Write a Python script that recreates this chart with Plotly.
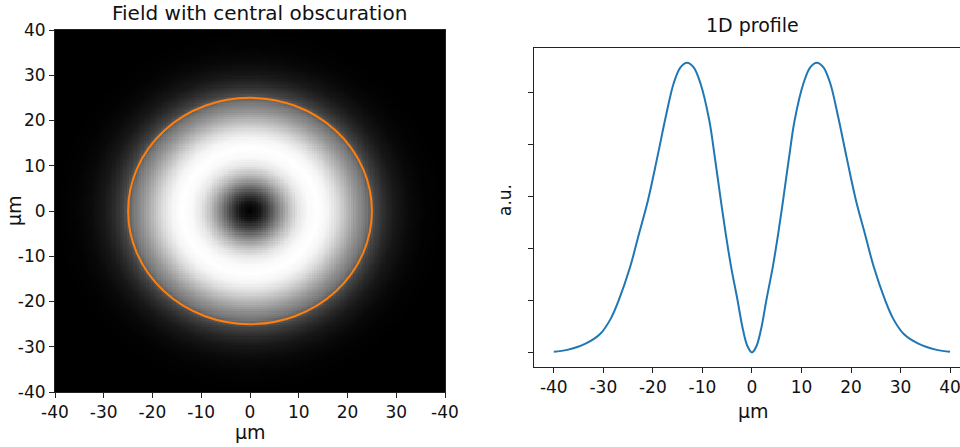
import numpy as np
import plotly.graph_objects as go

# ---- 1D profile through the beam centre (arbitrary units), right half read outward from 0 ----
half_x = [0, 0.9, 1.8, 3.0, 4.2, 5.3, 6.4, 7.5, 8.6, 10.4, 11.8, 13.1,
          14.4, 15.8, 17.4, 19.1, 21.0, 22.8, 24.6, 26.9, 28.5, 30.6, 33.6, 37.3, 40]
half_y = [0.0, 0.012, 0.043, 0.105, 0.164, 0.228, 0.300, 0.375, 0.445, 0.517, 0.548, 0.5565,
          0.548, 0.517, 0.4525, 0.375, 0.292, 0.228, 0.164, 0.100, 0.065, 0.036, 0.017, 0.005, 0.0013]
# the profile is symmetric about 0
profile_x = [-v for v in half_x[:0:-1]] + half_x
profile_y = half_y[:0:-1] + half_y

# ---- radial brightness of the displayed field (0 = black, 1 = white) ----
radius_um = [0, 2, 4, 6, 8, 10, 12, 14, 16, 18, 20, 22, 24, 26, 28, 30, 33, 36, 40]
brightness = [0.0, 0.08, 0.28, 0.52, 0.74, 0.9, 0.98, 1.0, 0.96, 0.86, 0.72, 0.58, 0.46,
              0.26, 0.16, 0.09, 0.035, 0.01, 0.0]

ring_radius = 25  # orange reference circle, µm

heat_ticks = [-40, -30, -20, -10, 0, 10, 20, 30, 40]
heat_xticktext = ["-40", "-30", "-20", "-10", "0", "10", "20", "30", "-40"]
heat_yticktext = ["-40", "-30", "-20", "-10", "0", "10", "20", "30", "40"]
profile_xticks = [-40, -30, -20, -10, 0, 10, 20, 30, 40]
profile_xticktext = ["-40", "-30", "-20", "-10", "0", "10", "20", "30", "40"]
profile_yticks = [0.0, 0.1, 0.2, 0.3, 0.4, 0.5]

# 2D field image built from the radial brightness profile
grid = np.arange(-40, 40.01, 0.5)
gx, gy = np.meshgrid(grid, grid)
field = np.interp(np.hypot(gx, gy), radius_um, brightness)

FONT = "DejaVu Sans"
W, H = 960, 447

fig = go.Figure()
fig.add_trace(go.Heatmap(
    x=grid, y=grid, z=field, colorscale=[[0, "#000000"], [1, "#ffffff"]],
    zmin=0, zmax=1, showscale=False, xaxis="x", yaxis="y", hoverinfo="skip"))
fig.add_trace(go.Scatter(
    x=profile_x, y=profile_y, mode="lines",
    line=dict(color="#1f77b4", width=2, shape="spline", smoothing=1.0),
    xaxis="x2", yaxis="y2", showlegend=False))

fig.add_shape(type="circle", xref="x", yref="y",
              x0=-ring_radius, x1=ring_radius, y0=-ring_radius, y1=ring_radius,
              line=dict(color="#ff7f0e", width=2))

tick_font = dict(family=FONT, size=17, color="#111111")
common = dict(showgrid=False, zeroline=False, ticks="outside", ticklen=5, tickcolor="#222222",
              tickfont=tick_font, showline=True, linecolor="#222222", linewidth=1,
              automargin=False, ticklabeloverflow="allow")

fig.update_layout(
    template="none",
    width=W, height=H, margin=dict(l=0, r=0, t=0, b=0, autoexpand=False),
    paper_bgcolor="white", plot_bgcolor="white", showlegend=False,
    xaxis=dict(domain=[55 / W, 445 / W], range=[-40, 40], tickvals=heat_ticks, ticktext=heat_xticktext,
               anchor="y", mirror=True, **common),
    yaxis=dict(domain=[55 / H, 417 / H], range=[-40, 40], tickvals=heat_ticks, ticktext=heat_yticktext,
               anchor="x", mirror=True, **common),
    xaxis2=dict(domain=[534 / W, 1.0], range=[-44, 42], tickvals=profile_xticks,
                ticktext=profile_xticktext, anchor="y2", mirror=True, **common),
    yaxis2=dict(domain=[80 / H, 399 / H], range=[-0.0279, 0.5846], tickvals=profile_yticks,
                showticklabels=False, anchor="x2", mirror=False, **common),
)


def label(text, px, py, size=19, angle=0):
    fig.add_annotation(text=text, x=px / W, y=1 - py / H, xref="paper", yref="paper",
                       xanchor="center", yanchor="middle", showarrow=False, textangle=angle,
                       font=dict(family=FONT, size=size, color="#111111"))


label("Field with central obscuration", 259, 13, size=20)
label("1D profile", 752.5, 25)
label("µm", 250, 432)
label("µm", 14, 211, angle=-90)
label("µm", 753, 411)
label("a.u.", 505, 200, size=17, angle=-90)

fig.write_html("out.html")
